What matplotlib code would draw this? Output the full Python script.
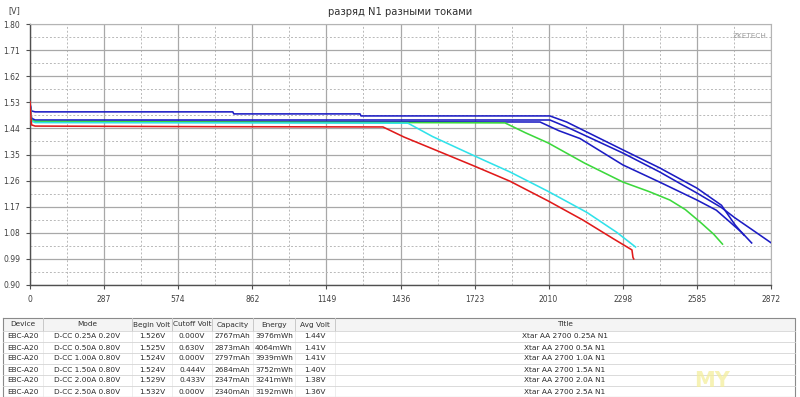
import matplotlib
matplotlib.use("Agg")
import matplotlib.pyplot as plt
from matplotlib.ticker import FixedLocator

# ------------------------------------
# Data
# ------------------------------------
X_TICKS = [0, 287, 574, 862, 1149, 1436, 1723, 2010, 2298, 2585, 2872]
Y_TICKS = [0.90, 0.99, 1.08, 1.17, 1.26, 1.35, 1.44, 1.53, 1.62, 1.71, 1.80]

cap_025 = [0, 6, 20, 786, 790, 1279, 1283, 2015, 2080, 2298, 2440, 2585, 2680, 2733, 2767]
v_025 = [1.526, 1.50, 1.497, 1.497, 1.490, 1.490, 1.483, 1.483, 1.462, 1.366, 1.304, 1.234, 1.175, 1.107, 1.072]

cap_050 = [0, 6, 20, 2015, 2080, 2298, 2440, 2585, 2680, 2733, 2800, 2873]
v_050 = [1.525, 1.475, 1.469, 1.469, 1.445, 1.355, 1.290, 1.217, 1.167, 1.131, 1.090, 1.045]

cap_100 = [0, 6, 20, 1977, 2050, 2132, 2298, 2440, 2585, 2660, 2713, 2760, 2797]
v_100 = [1.524, 1.470, 1.465, 1.462, 1.432, 1.405, 1.314, 1.255, 1.193, 1.158, 1.117, 1.080, 1.045]

cap_150 = [0, 6, 20, 1841, 1920, 2008, 2150, 2298, 2400, 2480, 2540, 2600, 2650, 2684]
v_150 = [1.524, 1.468, 1.464, 1.459, 1.425, 1.390, 1.320, 1.255, 1.222, 1.193, 1.160, 1.115, 1.075, 1.041]

cap_200 = [0, 6, 20, 1465, 1560, 1667, 1760, 1860, 2008, 2159, 2275, 2347]
v_200 = [1.529, 1.465, 1.460, 1.458, 1.412, 1.368, 1.330, 1.290, 1.223, 1.150, 1.081, 1.031]

cap_250 = [0, 6, 20, 700, 1368, 1450, 1570, 1717, 1860, 2008, 2143, 2260, 2333, 2337, 2340]
v_250 = [1.532, 1.452, 1.448, 1.446, 1.445, 1.410, 1.366, 1.312, 1.258, 1.190, 1.124, 1.060, 1.021, 0.995, 0.990]

SERIES = [
    (cap_025, v_025, "#1c1cc4"),
    (cap_050, v_050, "#1c1cc4"),
    (cap_100, v_100, "#1c1cc4"),
    (cap_150, v_150, "#3cd83c"),
    (cap_200, v_200, "#30e2ea"),
    (cap_250, v_250, "#e01a1a"),
]

TABLE_HEAD = ["Device", "Mode", "Begin Volt", "Cutoff Volt", "Capacity",
              "Energy", "Avg Volt", "Title"]
TABLE_ROWS = [
    ["EBC-A20", "D-CC 0.25A 0.20V", "1.526V", "0.000V", "2767mAh", "3976mWh", "1.44V", "Xtar AA 2700 0.25A N1"],
    ["EBC-A20", "D-CC 0.50A 0.80V", "1.525V", "0.630V", "2873mAh", "4064mWh", "1.41V", "Xtar AA 2700 0.5A N1"],
    ["EBC-A20", "D-CC 1.00A 0.80V", "1.524V", "0.000V", "2797mAh", "3939mWh", "1.41V", "Xtar AA 2700 1.0A N1"],
    ["EBC-A20", "D-CC 1.50A 0.80V", "1.524V", "0.444V", "2684mAh", "3752mWh", "1.40V", "Xtar AA 2700 1.5A N1"],
    ["EBC-A20", "D-CC 2.00A 0.80V", "1.529V", "0.433V", "2347mAh", "3241mWh", "1.38V", "Xtar AA 2700 2.0A N1"],
    ["EBC-A20", "D-CC 2.50A 0.80V", "1.532V", "0.000V", "2340mAh", "3192mWh", "1.36V", "Xtar AA 2700 2.5A N1"],
]
# column edges in pixels
COL_EDGES = [3, 43, 132, 172, 212, 253, 295, 335, 795]

W, H = 800, 397
fig = plt.figure(figsize=(W / 100, H / 100), dpi=100)
fig.patch.set_facecolor("white")

# ------------------------------------
# Chart
# ------------------------------------
ax = fig.add_axes([30 / W, 1 - 285 / H, 741 / W, 261 / H])
for cap, v, color in SERIES:
    ax.plot(cap, v, color=color, lw=1.15, zorder=3, solid_joinstyle="round")

ax.set_xlim(X_TICKS[0], X_TICKS[-1])
ax.set_ylim(Y_TICKS[0], Y_TICKS[-1])
ax.xaxis.set_major_locator(FixedLocator(X_TICKS))
ax.yaxis.set_major_locator(FixedLocator(Y_TICKS))
x_mid = [(a + b) / 2 for a, b in zip(X_TICKS[:-1], X_TICKS[1:])]
y_mid = [(a + b) / 2 for a, b in zip(Y_TICKS[:-1], Y_TICKS[1:])]
ax.xaxis.set_minor_locator(FixedLocator(x_mid))
ax.yaxis.set_minor_locator(FixedLocator(y_mid))
ax.set_xticklabels([str(t) for t in X_TICKS])
ax.set_yticklabels([f"{t:.2f}" for t in Y_TICKS])
ax.grid(which="major", color="#a8a8a8", lw=0.9, ls="-", zorder=1)
ax.grid(which="minor", color="#b8b8b8", lw=0.7, ls=(0, (2, 2)), zorder=1)
ax.tick_params(which="major", length=3, width=0.8, color="#505050",
               labelsize=5.5, labelcolor="#404040", pad=4)
ax.tick_params(which="minor", length=0)
for side in ("top", "right"):
    ax.spines[side].set_color("#b4b4b4")
for side in ("left", "bottom"):
    ax.spines[side].set_color("#505050")
    ax.spines[side].set_linewidth(1.0)

ax.text(0.994, 0.955, "ZKETECH", transform=ax.transAxes, ha="right",
        va="center", fontsize=5.2, color="#9a9a9a")

fig.text(400 / W, 1 - 12 / H, "разряд N1 разными токами", ha="center",
         va="center", fontsize=7.2, color="#303030")
fig.text(14 / W, 1 - 11 / H, "[V]", ha="center", va="center", fontsize=5.8,
         color="#404040")

# ------------------------------------
# Table under the chart (pixel coordinates)
# ------------------------------------
tab = fig.add_axes([0, 0, 1, 1])
tab.set_xlim(0, W)
tab.set_ylim(H, 0)
tab.axis("off")

top, head_h, row_h = 318, 13, 11
bottom = top + head_h + row_h * len(TABLE_ROWS)
tab.fill_between([COL_EDGES[0], COL_EDGES[-1]], top, top + head_h,
                 color="#f4f4f4", lw=0)
tab.plot([COL_EDGES[0], COL_EDGES[-1], COL_EDGES[-1], COL_EDGES[0], COL_EDGES[0]],
         [top, top, bottom, bottom, top], color="#8a8a8a", lw=0.8)
for x in COL_EDGES[1:-1]:
    tab.plot([x, x], [top, top + head_h], color="#c8c8c8", lw=0.7)
    tab.plot([x, x], [top + head_h, bottom], color="#e6e6e6", lw=0.5)
for i in range(len(TABLE_ROWS) + 1):
    y = top + head_h + i * row_h
    tab.plot([COL_EDGES[0], COL_EDGES[-1]], [y, y], color="#d4d4d4", lw=0.6)

centers = [(a + b) / 2 for a, b in zip(COL_EDGES[:-1], COL_EDGES[1:])]
for cx, label in zip(centers, TABLE_HEAD):
    tab.text(cx, top + head_h / 2, label, ha="center", va="center",
             fontsize=5.3, color="#303030")
for r, row in enumerate(TABLE_ROWS):
    yc = top + head_h + row_h * r + row_h / 2
    for cx, val in zip(centers, row):
        tab.text(cx, yc, val, ha="center", va="center", fontsize=5.3,
                 color="#2a2a2a")

# faint site watermark over the table
tab.text(712, 381, "MY", ha="center", va="center", fontsize=15,
         fontweight="bold", color="#f4ee9c", alpha=0.75)

fig.savefig("out.png", dpi=100)
